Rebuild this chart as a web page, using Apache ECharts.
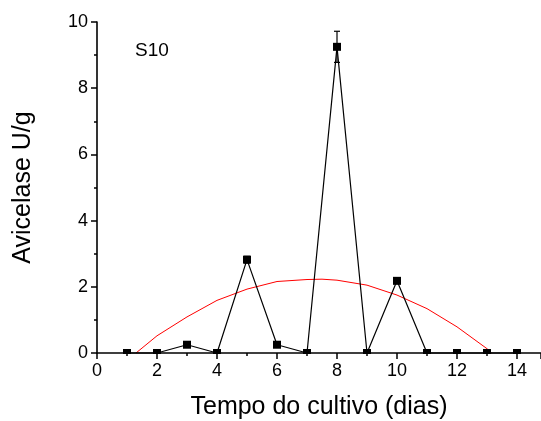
<!DOCTYPE html>
<html>
<head>
<meta charset="utf-8">
<script src="https://cdn.jsdelivr.net/npm/echarts@6/dist/echarts.min.js"></script>
<style>
  html, body { margin: 0; padding: 0; background: #fff; }
  #chart { width: 541px; height: 421px; }
</style>
</head>
<body>
<div id="chart"></div>
<script>
// Avicelase activity of sample S10 over cultivation days
const days = [1, 2, 3, 4, 5, 6, 7, 8, 9, 10, 11, 12, 13, 14];
const activity = [0, 0, 0.25, 0, 2.82, 0.25, 0, 9.25, 0, 2.18, 0, 0, 0, 0];
const activityErr = [0, 0, 0, 0, 0.1, 0, 0, 0.47, 0, 0, 0, 0, 0, 0];

// Fitted trend curve (red)
const fitDays = [1.3, 2, 3, 4, 5, 6, 7, 7.5, 8, 9, 10, 11, 12, 13, 13.15];
const fitValues = [0, 0.52, 1.09, 1.59, 1.93, 2.16, 2.22, 2.23, 2.2, 2.05, 1.75, 1.34, 0.79, 0.13, 0];

const xTicks = [0, 2, 4, 6, 8, 10, 12, 14];
const yTicks = [0, 2, 4, 6, 8, 10];

const FONT = '"Liberation Sans", Arial, sans-serif';

const chart = echarts.init(document.getElementById('chart'), null, { renderer: 'canvas' });

const axisCommon = {
  axisLine: { onZero: false, lineStyle: { color: '#000', width: 1.6 } },
  axisTick: { inside: false, length: 6, lineStyle: { color: '#000', width: 1.5 } },
  minorTick: { show: true, splitNumber: 2, length: 3, lineStyle: { color: '#000', width: 1.5 } },
  splitLine: { show: false },
  axisLabel: { color: '#000', fontSize: 18, fontFamily: FONT, margin: 9 },
  nameTextStyle: { color: '#000', fontSize: 25, fontFamily: FONT },
  nameLocation: 'middle',
  z: 10
};

chart.setOption({
  animation: false,
  backgroundColor: '#fff',
  grid: { left: 97, top: 22, right: 0, bottom: 68, containLabel: false, outerBoundsMode: 'none' },
  xAxis: Object.assign({}, axisCommon, {
    type: 'value',
    min: 0,
    max: 14.8,
    interval: 2,
    name: 'Tempo do cultivo (dias)',
    nameGap: 42,
    axisLabel: Object.assign({}, axisCommon.axisLabel, {
      showMaxLabel: false,
      formatter: v => (xTicks.indexOf(v) >= 0 ? String(v) : '')
    })
  }),
  yAxis: Object.assign({}, axisCommon, {
    type: 'value',
    min: 0,
    max: 10,
    interval: 2,
    name: 'Avicelase U/g',
    nameGap: 61,
    axisLabel: Object.assign({}, axisCommon.axisLabel, {
      formatter: v => (yTicks.indexOf(v) >= 0 ? String(v) : '')
    })
  }),
  graphic: [
    {
      // hides the part of the zero-value markers below the x axis line
      type: 'rect',
      z: 5,
      shape: { x: 97, y: 354, width: 444, height: 6 },
      style: { fill: '#fff' }
    },
    {
      type: 'text',
      left: 135,
      top: 41,
      z: 20,
      style: { text: 'S10', fill: '#000', font: '19px ' + FONT }
    }
  ],
  series: [
    {
      type: 'line',
      data: fitDays.map((d, i) => [d, fitValues[i]]),
      showSymbol: false,
      symbol: 'none',
      lineStyle: { color: '#ff0000', width: 1 },
      clip: false,
      z: 2
    },
    {
      type: 'line',
      data: days.map((d, i) => [d, activity[i]]),
      symbol: 'rect',
      symbolSize: 8,
      itemStyle: { color: '#000' },
      lineStyle: { color: '#000', width: 1.2 },
      clip: false,
      z: 3
    },
    {
      type: 'custom',
      z: 4,
      data: days.map((d, i) => [d, activity[i], activityErr[i]]).filter(r => r[2] > 0),
      renderItem: function (params, api) {
        const x = api.value(0), y = api.value(1), e = api.value(2);
        const top = api.coord([x, y + e]);
        const bot = api.coord([x, y - e]);
        const cap = 3;
        const style = { stroke: '#000', lineWidth: 1.2 };
        return {
          type: 'group',
          children: [
            { type: 'line', shape: { x1: top[0], y1: top[1], x2: bot[0], y2: bot[1] }, style },
            { type: 'line', shape: { x1: top[0] - cap, y1: top[1], x2: top[0] + cap, y2: top[1] }, style },
            { type: 'line', shape: { x1: bot[0] - cap, y1: bot[1], x2: bot[0] + cap, y2: bot[1] }, style }
          ]
        };
      }
    }
  ]
});
</script>
</body>
</html>
